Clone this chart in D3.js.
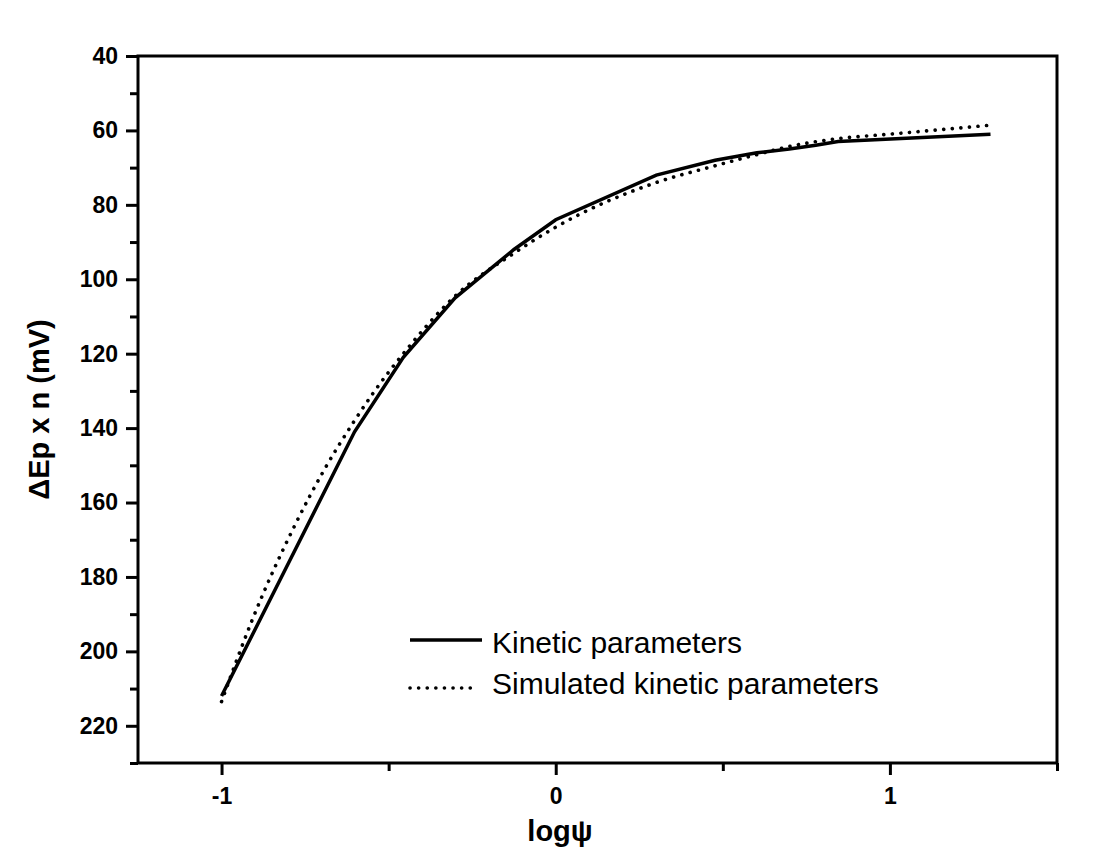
<!DOCTYPE html>
<html>
<head>
<meta charset="utf-8">
<script src="https://cdn.jsdelivr.net/npm/d3@7"></script>
<style>
  body { margin: 0; background: #fff; }
  text { font-family: "Liberation Sans", Arial, sans-serif; }
</style>
</head>
<body>
<div id="chart"></div>
<script>
// log(psi) values and peak separation from the Nicholson table
const logPsi = [-1, -0.602, -0.456, -0.301, -0.125, 0, 0.301, 0.477, 0.602, 0.699, 0.778, 0.845, 1.301];
const deltaEp = [212, 141, 121, 105, 92, 84, 72, 68, 66, 65, 64, 63, 61];

// simulated working curve
const simLogPsi = [-1, -0.908, -0.78, -0.694, -0.602, -0.544, -0.456, -0.301, -0.125, -0.065, 0, 0.301, 0.477, 0.602, 0.7, 0.845, 1.0, 1.3];
const simDeltaEp = [213.5, 191.5, 166, 151.4, 138, 130.3, 120, 104.5, 93, 89.5, 86, 74, 69.5, 66.5, 64.3, 62.2, 61, 58.6];

const xMajor = [-1, 0, 1];
const xMinor = [-0.5, 0.5, 1.5];
const yMajor = [40, 60, 80, 100, 120, 140, 160, 180, 200, 220];
const yMinor = [50, 70, 90, 110, 130, 150, 170, 190, 210, 230];

const legendLabels = ["Kinetic parameters", "Simulated kinetic parameters"];

const width = 1112, height = 860;
const margin = { top: 56, right: 55, bottom: 97, left: 138 };

const svg = d3.select("#chart").append("svg")
  .attr("width", width)
  .attr("height", height);

const x = d3.scaleLinear().domain([-1.25, 1.5]).range([margin.left, width - margin.right]);
const y = d3.scaleLinear().domain([40, 230]).range([margin.top, height - margin.bottom]);

// minor ticks first, no labels
svg.append("g")
  .attr("transform", `translate(0,${height - margin.bottom})`)
  .call(d3.axisBottom(x).tickValues(xMinor).tickSize(8).tickSizeOuter(0).tickFormat(""))
  .call(g => g.select(".domain").remove())
  .call(g => g.selectAll("line").attr("stroke-width", 3));

svg.append("g")
  .attr("transform", `translate(${margin.left},0)`)
  .call(d3.axisLeft(y).tickValues(yMinor).tickSize(8).tickSizeOuter(0).tickFormat(""))
  .call(g => g.select(".domain").remove())
  .call(g => g.selectAll("line").attr("stroke-width", 3));

// major ticks with labels
svg.append("g")
  .attr("transform", `translate(0,${height - margin.bottom})`)
  .call(d3.axisBottom(x).tickValues(xMajor).tickSize(12).tickSizeOuter(0).tickPadding(13).tickFormat(d => String(d)))
  .call(g => g.select(".domain").remove())
  .call(g => g.selectAll("line").attr("stroke-width", 3))
  .call(g => g.selectAll("text")
    .attr("fill", "#000")
    .style("font-size", "23px")
    .style("font-weight", "bold"));

svg.append("g")
  .attr("transform", `translate(${margin.left},0)`)
  .call(d3.axisLeft(y).tickValues(yMajor).tickSize(12).tickSizeOuter(0).tickPadding(8))
  .call(g => g.select(".domain").remove())
  .call(g => g.selectAll("line").attr("stroke-width", 3))
  .call(g => g.selectAll("text")
    .attr("fill", "#000")
    .style("font-size", "23px")
    .style("font-weight", "bold"));

// frame
svg.append("rect")
  .attr("x", margin.left)
  .attr("y", margin.top)
  .attr("width", width - margin.left - margin.right)
  .attr("height", height - margin.top - margin.bottom)
  .attr("fill", "none")
  .attr("stroke", "#000")
  .attr("stroke-width", 3);

// the two curves
const solid = d3.line()
  .x((d, i) => x(logPsi[i]))
  .y(d => y(d));

const smooth = d3.line()
  .x((d, i) => x(simLogPsi[i]))
  .y(d => y(d))
  .curve(d3.curveMonotoneX);

svg.append("path")
  .attr("d", smooth(simDeltaEp))
  .attr("fill", "none")
  .attr("stroke", "#000")
  .attr("stroke-width", 3.6)
  .attr("stroke-linecap", "round")
  .attr("stroke-dasharray", "0.1,8.5");

svg.append("path")
  .attr("d", solid(deltaEp))
  .attr("fill", "none")
  .attr("stroke", "#000")
  .attr("stroke-width", 3.5);

// axis titles
svg.append("text")
  .attr("transform", `translate(49,${(margin.top + height - margin.bottom) / 2}) rotate(-90)`)
  .attr("text-anchor", "middle")
  .style("font-size", "29px")
  .style("font-weight", "bold")
  .text("\u0394Ep x n (mV)");

svg.append("text")
  .attr("x", 560)
  .attr("y", 841)
  .attr("text-anchor", "middle")
  .style("font-size", "29px")
  .style("font-weight", "bold")
  .text("log\u03c8");

// legend
const legend = svg.append("g").attr("transform", "translate(410,640)");
legendLabels.forEach((label, i) => {
  legend.append("line")
    .attr("x1", 0).attr("x2", i === 0 ? 72 : 68)
    .attr("y1", i * 48).attr("y2", i * 48)
    .attr("stroke", "#000")
    .attr("stroke-width", i === 0 ? 3.5 : 3.6)
    .attr("stroke-linecap", i === 0 ? "butt" : "round")
    .attr("stroke-dasharray", i === 0 ? null : "0.1,8.5");
  legend.append("text")
    .attr("x", 82)
    .attr("y", 13 + i * 41)
    .style("font-size", "30px")
    .text(label);
});
</script>
</body>
</html>
